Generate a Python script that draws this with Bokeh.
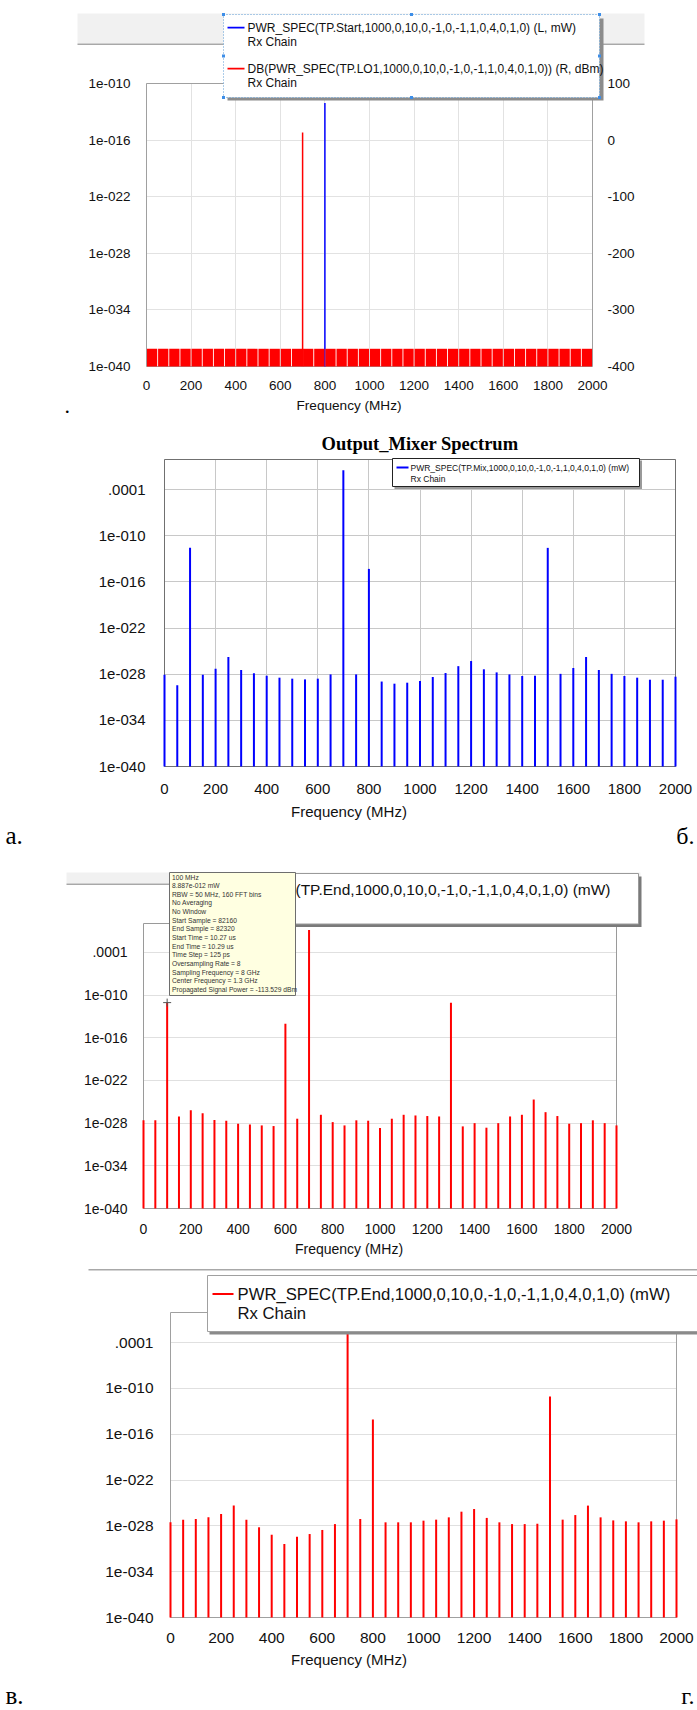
from bokeh.plotting import figure
from bokeh.models import Range1d, LinearScale, LinearAxis, FixedTicker, BoxAnnotation, Label
from bokeh.layouts import column
from bokeh.embed import file_html
from bokeh.resources import INLINE

# ---------------- data ----------------
freq_ticks = [0, 200, 400, 600, 800, 1000, 1200, 1400, 1600, 1800, 2000]
log_ticks_a = [1e-40, 1e-34, 1e-28, 1e-22, 1e-16, 1e-10]
log_labels_a = ["1e-040", "1e-034", "1e-028", "1e-022", "1e-016", "1e-010"]
log_ticks = [1e-40, 1e-34, 1e-28, 1e-22, 1e-16, 1e-10, 1e-4]
log_labels = ["1e-040", "1e-034", "1e-028", "1e-022", "1e-016", "1e-010", ".0001"]
dbm_ticks = [-400, -300, -200, -100, 0, 100]
dbm_labels = ["-400", "-300", "-200", "-100", "0", "100"]

# panel a: input tone (mW, left axis) and LO1 (dBm, right axis)
start_freq_mhz = [800]
start_power_mw = [8.7e-13]
lo1_freq_mhz = [700]
lo1_power_dbm = [13.3]
lo1_floor_bin_mhz = [25, 75, 125, 175, 225, 275, 325, 375, 425, 475,
                     525, 575, 625, 675, 725, 775, 825, 875, 925, 975,
                     1025, 1075, 1125, 1175, 1225, 1275, 1325, 1375, 1425, 1475,
                     1525, 1575, 1625, 1675, 1725, 1775, 1825, 1875, 1925, 1975]
lo1_floor_dbm = [-368.7, -368.7, -368.7, -368.7, -368.7, -368.7, -368.7, -368.7, -368.7, -368.7,
                 -368.7, -368.7, -368.7, -368.7, -368.7, -368.7, -368.7, -368.7, -368.7, -368.7,
                 -368.7, -368.7, -368.7, -368.7, -368.7, -368.7, -368.7, -368.7, -368.7, -368.7,
                 -368.7, -368.7, -368.7, -368.7, -368.7, -368.7, -368.7, -368.7, -368.7, -368.7]

spec_freq_mhz = [0, 50, 100, 150, 200, 250, 300, 350, 400, 450,
                 500, 550, 600, 650, 700, 750, 800, 850, 900, 950,
                 1000, 1050, 1100, 1150, 1200, 1250, 1300, 1350, 1400, 1450,
                 1500, 1550, 1600, 1650, 1700, 1750, 1800, 1850, 1900, 1950, 2000]

# panel b: mixer output (mW)
mix_power_mw = [8.5e-29, 3.5e-30, 2.6e-12, 8.5e-29, 5.1e-28, 1.7e-26, 3.5e-28, 1.3e-28, 6.3e-29, 3.5e-29,
                2.6e-29, 2.1e-29, 2.6e-29, 9.3e-29, 3.3e-2, 9.3e-29, 4.8e-15, 1.1e-29, 5.8e-30, 7.8e-30,
                1.3e-29, 4.3e-29, 1.4e-28, 1.1e-27, 5.1e-27, 4.3e-28, 1.7e-28, 9.3e-29, 5.8e-29, 6.3e-29,
                2.6e-12, 1.1e-28, 6.3e-28, 1.7e-26, 3.5e-28, 1.1e-28, 5.8e-29, 3.5e-29, 1.9e-29, 1.9e-29, 4.7e-29]

# panel c: end of chain, first case (mW)
end1_power_mw = [2.5e-28, 2.5e-28, 8.887e-12, 8.7e-28, 6.3e-27, 2.5e-27, 2.7e-28, 2.2e-28, 8.3e-29, 6.6e-29,
                 4.8e-29, 3.9e-29, 9.5e-15, 4.2e-28, 1.4e-1, 1.5e-27, 1.4e-28, 4.8e-29, 2.5e-28, 2.2e-28,
                 2.0e-29, 4.2e-28, 1.5e-27, 1.2e-27, 1.0e-27, 8.7e-28, 8.5e-12, 3.5e-29, 1.0e-28, 2.3e-29,
                 1.0e-28, 8.7e-28, 1.5e-27, 2.1e-25, 3.5e-27, 1.0e-27, 8.3e-29, 1.0e-28, 2.5e-28, 1.0e-28, 4.8e-29]
marker_freq_mhz = [100]
marker_power_mw = [8.887e-12]

# panel d: end of chain, second case (mW)
end2_power_mw = [2.9e-28, 6.5e-28, 7.9e-28, 1.3e-27, 3.6e-27, 4.5e-26, 6.5e-28, 6.5e-29, 6.9e-30, 4.2e-31,
                 3.8e-30, 8.5e-30, 2.9e-29, 1.7e-28, 1.4e-1, 7.9e-28, 8.5e-15, 2.9e-28, 2.9e-28, 2.9e-28,
                 4.8e-28, 6.5e-28, 1.3e-27, 7.2e-27, 1.6e-26, 1.1e-27, 2.9e-28, 1.7e-28, 1.7e-28, 1.9e-28,
                 8.9e-12, 6.5e-28, 2.6e-27, 4.5e-26, 1.3e-27, 5.2e-28, 3.9e-28, 2.9e-28, 3.9e-28, 4.8e-28, 7.1e-28]

legend_a_blue = "PWR_SPEC(TP.Start,1000,0,10,0,-1,0,-1,1,0,4,0,1,0) (L, mW)"
legend_a_red = "DB(PWR_SPEC(TP.LO1,1000,0,10,0,-1,0,-1,1,0,4,0,1,0)) (R, dBm)"
legend_b = "PWR_SPEC(TP.Mix,1000,0,10,0,-1,0,-1,1,0,4,0,1,0) (mW)"
legend_end = "PWR_SPEC(TP.End,1000,0,10,0,-1,0,-1,1,0,4,0,1,0) (mW)"
legend_sub = "Rx Chain"
title_b = "Output_Mixer Spectrum"
x_title = "Frequency (MHz)"
tooltip_lines = ["100 MHz", "8.887e-012 mW", "RBW = 50 MHz, 160 FFT bins", "No Averaging",
                 "No Window", "Start Sample = 82160", "End Sample = 82320",
                 "Start Time = 10.27 us", "End Time = 10.29 us", "Time Step = 125 ps",
                 "Oversampling Rate = 8", "Sampling Frequency = 8 GHz",
                 "Center Frequency = 1.3 GHz", "Propagated Signal Power = -113.529 dBm"]
panel_marks = ["а.", "б.", "в.", "г."]

# ---------------- helpers ----------------
W = 697
FONT = "Liberation Sans"
SERIF = "Liberation Serif"
BLUE = "#0000ff"
RED = "#ff0000"
TXT = "#111111"


def style_axis(ax, fs, standoff):
    ax.axis_line_color = None
    ax.major_tick_line_color = None
    ax.minor_tick_line_color = None
    ax.major_tick_out = 0
    ax.major_tick_in = 0
    ax.major_label_text_font = FONT
    ax.major_label_text_font_size = f"{fs}px"
    ax.major_label_text_color = TXT
    ax.major_label_standoff = standoff


def box(p, l, r, t, b, fill=None, line=None, lw=1, dash="solid", level="annotation"):
    p.add_layout(BoxAnnotation(left=l, right=r, top=t, bottom=b, level=level,
                               x_range_name="px", y_range_name="px",
                               fill_color=fill if fill else "white", fill_alpha=1 if fill else 0,
                               line_color=line if line else "white", line_alpha=1 if line else 0,
                               line_width=lw, line_dash=dash))


def txt(p, x, y, s, size, font=FONT, color=TXT, align="left", style="normal"):
    p.add_layout(Label(x=x, y=y, x_range_name="px", y_range_name="px", text=s,
                       text_font=font, text_font_size=f"{size}px", text_color=color,
                       text_align=align, text_baseline="middle", text_font_style=style))


def make_panel(y0, y1, L, R, T, B, ytop_log, yt, yl, tick_fs, title_fs, ystand, xstand, tstand,
               grid_col, xgrid, outline_col):
    # frame = whole canvas; plot box L..R x T..B (page pixels) holds 0..2000 MHz, 1e-40..ytop
    k = 2000.0 / (R - L)
    xr = Range1d(-L * k, 2000 + (W - R) * k)
    d = (ytop_log + 40.0) / (B - T)
    yr = Range1d(10 ** (-40 - (y1 - B) * d), 10 ** (ytop_log + (T - y0) * d))
    p = figure(width=W, height=y1 - y0, output_backend="svg", toolbar_location=None,
               x_range=xr, y_range=yr, y_axis_type="log", min_border=0,
               background_fill_color="white", border_fill_color="white")
    p.outline_line_color = None
    p.extra_x_ranges = {"px": Range1d(0, W)}
    p.extra_y_ranges = {"px": Range1d(y1, y0)}
    p.extra_x_scales = {"px": LinearScale()}
    p.extra_y_scales = {"px": LinearScale()}

    xa = p.xaxis[0]
    ya = p.yaxis[0]
    xa.fixed_location = 1e-40
    ya.fixed_location = 0
    xa.ticker = FixedTicker(ticks=freq_ticks)
    ya.ticker = FixedTicker(ticks=yt)
    ya.major_label_overrides = dict(zip(yt, yl))
    style_axis(xa, tick_fs, xstand)
    style_axis(ya, tick_fs, ystand)
    xa.axis_label = x_title
    xa.axis_label_text_font = FONT
    xa.axis_label_text_font_style = "normal"
    xa.axis_label_text_font_size = f"{title_fs}px"
    xa.axis_label_text_color = TXT
    xa.axis_label_standoff = tstand

    yg = p.ygrid[0]
    xg = p.xgrid[0]
    yg.grid_line_color = grid_col
    yg.ticker = FixedTicker(ticks=yt)
    yg.cross_bounds = (0, 2000)
    if xgrid:
        xg.grid_line_color = grid_col
        xg.ticker = FixedTicker(ticks=freq_ticks)
        xg.cross_bounds = (1e-40, 10 ** ytop_log)
    else:
        xg.grid_line_color = None
    # plot-area border
    box(p, L, R, T, B, line=outline_col, lw=1, level="underlay")
    return p


# ---------------- panel a ----------------
A = dict(y0=0, y1=418, L=146, R=592, T=83, B=366)
pa = make_panel(A["y0"], A["y1"], A["L"], A["R"], A["T"], A["B"], -10, log_ticks_a, log_labels_a,
                13.5, 13.6, 16, 14, 5, "#e2e2e2", True, "#a0a0a0")
r = 500.0 / (A["B"] - A["T"])
pa.extra_y_ranges["dbm"] = Range1d(-400 - (A["y1"] - A["B"]) * r, 100 + (A["T"] - A["y0"]) * r)
pa.extra_y_scales["dbm"] = LinearScale()
rax = LinearAxis(y_range_name="dbm", ticker=FixedTicker(ticks=dbm_ticks), fixed_location=2000,
                 major_label_overrides=dict(zip(dbm_ticks, dbm_labels)))
style_axis(rax, 13.5, 15)
pa.add_layout(rax, "right")

pa.segment(x0=start_freq_mhz, y0=[1e-40], x1=start_freq_mhz, y1=start_power_mw,
           line_color=BLUE, line_width=1.5)
pa.segment(x0=lo1_freq_mhz, y0=[-400], x1=lo1_freq_mhz, y1=lo1_power_dbm,
           line_color=RED, line_width=1.5, y_range_name="dbm")
pa.vbar(x=lo1_floor_bin_mhz, top=lo1_floor_dbm, bottom=-400, width=46,
        fill_color=RED, line_color=None, y_range_name="dbm")

# header band + legend
box(pa, 77, 644, 13, 43, fill="#f1f1f1")
box(pa, 77, 644, 43, 44.5, fill="#a8a8a8")
box(pa, 227, 603, 18, 100, fill="#8c8c8c")
box(pa, 223, 599, 14, 97, fill="white", line="#5b9bd5", lw=1, dash="1 2")
for hx in (223, 411, 599):
    for hy in (14, 55.5, 97):
        if hx == 411 and hy == 55.5:
            continue
        box(pa, hx - 1.5, hx + 1.5, hy - 1.5, hy + 1.5, fill="#3d8ee8")
box(pa, 227, 244, 26.3, 28, fill=BLUE)
txt(pa, 247, 27.5, legend_a_blue, 12)
txt(pa, 247, 41.5, legend_sub, 12)
box(pa, 227, 244, 67.3, 69, fill=RED)
txt(pa, 247, 68.5, legend_a_red, 12)
txt(pa, 247, 82.5, legend_sub, 12)
txt(pa, 64, 405, ".", 22, font=SERIF, color="#000000")

# ---------------- panel b ----------------
Bp = dict(y0=418, y1=856, L=164, R=675, T=459, B=766)
pb = make_panel(Bp["y0"], Bp["y1"], Bp["L"], Bp["R"], Bp["T"], Bp["B"], -0.1, log_ticks, log_labels,
                15, 15, 19, 17, 6, "#c8c8c8", True, "#707070")
pb.segment(x0=spec_freq_mhz, y0=[1e-40] * len(spec_freq_mhz), x1=spec_freq_mhz, y1=mix_power_mw,
           line_color=BLUE, line_width=2)
txt(pb, 419.5, 443, title_b, 18.5, font=SERIF, color="#000000", align="center", style="bold")
box(pb, 394, 641.5, 460, 488.5, fill="#9a9a9a")
box(pb, 392, 639, 458, 486, fill="white", line="#222222", lw=1)
box(pb, 396, 408, 466, 468, fill=BLUE)
txt(pb, 410, 467.5, legend_b, 8.5)
txt(pb, 410, 478.5, legend_sub, 8.5)
txt(pb, 5, 835, panel_marks[0], 25, font=SERIF, color="#000000")
txt(pb, 694, 835, panel_marks[1], 24, font=SERIF, color="#000000", align="right")

# ---------------- panel c ----------------
C = dict(y0=856, y1=1265, L=143, R=616, T=923, B=1208)
pc = make_panel(C["y0"], C["y1"], C["L"], C["R"], C["T"], C["B"], 0.07, log_ticks, log_labels,
                14, 14, 16, 15, 4, "#e0e0e0", False, "#9a9a9a")
pc.segment(x0=spec_freq_mhz, y0=[1e-40] * len(spec_freq_mhz), x1=spec_freq_mhz, y1=end1_power_mw,
           line_color=RED, line_width=2)
pc.scatter(x=marker_freq_mhz, y=marker_power_mw, marker="cross", size=8,
           line_color="#555555", line_width=1)
box(pc, 66, 640, 872, 883, fill="#f1f1f1")
box(pc, 66, 640, 883, 884.5, fill="#a8a8a8")
box(pc, 181, 641, 876, 926.5, fill="#7a7a7a")
box(pc, 178, 638, 873, 923.5, fill="white", line="#9a9a9a", lw=1)
box(pc, 183, 204, 888, 890, fill=RED)
txt(pc, 208, 889, legend_end, 15.5)
txt(pc, 208, 907, legend_sub, 15.5)
# tooltip
box(pc, 169, 295, 872, 995, fill="#ffffe1", line="#6e6e6e", lw=1)
for i, line in enumerate(tooltip_lines):
    txt(pc, 171.5, 876.5 + i * 8.65, line, 6.7, color="#333333")

# ---------------- panel d ----------------
D = dict(y0=1265, y1=1710, L=170, R=676, T=1312, B=1617)
pd_ = make_panel(D["y0"], D["y1"], D["L"], D["R"], D["T"], D["B"], -0.06, log_ticks, log_labels,
                 15.5, 15, 17, 15, 5, "#e0e0e0", False, "#a0a0a0")
pd_.segment(x0=spec_freq_mhz, y0=[1e-40] * len(spec_freq_mhz), x1=spec_freq_mhz, y1=end2_power_mw,
            line_color=RED, line_width=2)
box(pd_, 88, 700, 1268.5, 1270, fill="#a8a8a8")
box(pd_, 209, 700, 1277, 1334, fill="#8a8a8a")
box(pd_, 207, 700, 1275, 1331, fill="white", line="#a0a0a0", lw=1)
box(pd_, 212, 233, 1292.5, 1294.5, fill=RED)
txt(pd_, 237, 1294, legend_end, 16.7)
txt(pd_, 237, 1313, legend_sub, 16.7)
txt(pd_, 5, 1695, panel_marks[2], 25, font=SERIF, color="#000000")
txt(pd_, 694, 1695, panel_marks[3], 24, font=SERIF, color="#000000", align="right")

layout = column(pa, pb, pc, pd_, spacing=0)
open("out.html", "w").write(file_html(layout, INLINE))
